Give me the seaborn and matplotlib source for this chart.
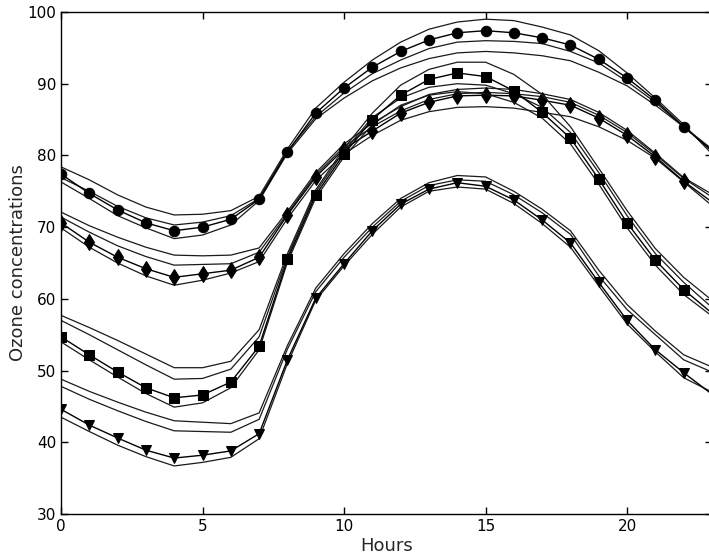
import matplotlib
matplotlib.use("Agg")
import matplotlib.pyplot as plt
import seaborn as sns
import pandas as pd

hours = list(range(24))

# circle group
circle_obs = [77.4, 74.7, 72.4, 70.6, 69.5, 70.0, 71.1, 73.9, 80.5, 85.9, 89.4, 92.3,
              94.5, 96.1, 97.1, 97.4, 97.1, 96.4, 95.4, 93.4, 90.8, 87.7, 84.0, 80.6]
circle_a = [78.4, 76.6, 74.5, 72.8, 71.7, 71.8, 72.3, 74.3, 80.9, 86.6, 90.2, 93.3,
            95.8, 97.6, 98.6, 99.0, 98.8, 97.9, 96.8, 94.6, 91.5, 88.0, 84.3, 80.2]
circle_b = [76.9, 75.0, 72.9, 71.3, 70.3, 70.7, 71.6, 74.0, 80.6, 85.4, 88.7, 91.4,
            93.3, 94.9, 95.8, 96.0, 95.9, 95.6, 94.5, 92.9, 90.3, 87.4, 84.0, 80.7]
circle_c = [76.3, 74.0, 71.6, 69.9, 68.4, 68.9, 70.3, 73.7, 80.3, 85.1, 88.0, 90.4,
            92.2, 93.5, 94.3, 94.5, 94.3, 93.9, 93.2, 91.6, 89.7, 87.0, 84.0, 80.9]

# diamond group
diamond_obs = [70.6, 67.9, 65.8, 64.2, 63.0, 63.5, 64.0, 65.8, 71.7, 77.0, 80.9, 83.4,
               85.9, 87.4, 88.3, 88.4, 88.3, 87.7, 87.0, 85.2, 82.8, 79.8, 76.4, 73.5]
diamond_a = [72.1, 70.2, 68.6, 67.2, 66.1, 66.0, 66.1, 67.1, 72.2, 77.6, 81.6, 84.5,
             86.8, 88.5, 89.2, 89.4, 89.2, 88.6, 87.8, 86.0, 83.5, 80.3, 76.9, 74.6]
diamond_b = [71.4, 69.3, 67.4, 65.9, 64.7, 64.8, 64.9, 66.5, 71.9, 77.3, 81.2, 84.0,
             86.2, 87.8, 88.6, 88.8, 88.6, 88.2, 87.4, 85.6, 83.2, 80.1, 76.8, 74.2]
diamond_c = [69.9, 67.2, 65.0, 63.2, 61.9, 62.6, 63.6, 65.2, 71.2, 76.5, 80.2, 82.8,
             84.9, 86.1, 86.7, 86.8, 86.6, 86.0, 85.4, 84.0, 82.1, 79.6, 76.3, 73.0]

# square group
square_obs = [54.7, 52.2, 49.8, 47.6, 46.2, 46.6, 48.4, 53.4, 65.5, 74.5, 80.2, 85.0,
              88.4, 90.6, 91.5, 91.0, 89.0, 86.0, 82.4, 76.7, 70.6, 65.4, 61.3, 58.0]
square_a = [57.7, 56.0, 54.2, 52.3, 50.4, 50.4, 51.3, 55.7, 66.3, 75.2, 81.0, 85.9,
            89.8, 92.0, 93.0, 93.0, 91.3, 88.5, 84.0, 78.2, 72.3, 67.0, 63.0, 59.8]
square_b = [57.0, 55.0, 52.9, 50.8, 48.8, 48.9, 50.2, 54.7, 65.9, 74.9, 80.6, 85.3,
            88.0, 89.5, 90.0, 89.8, 88.6, 86.7, 83.2, 77.6, 71.6, 66.3, 62.3, 58.8]
square_c = [54.0, 51.5, 49.1, 46.8, 44.9, 45.5, 47.6, 52.9, 65.1, 74.1, 79.8, 84.3,
            87.0, 88.4, 88.9, 88.6, 87.4, 85.2, 81.6, 76.0, 69.9, 64.7, 60.6, 57.6]

# triangle group
triangle_obs = [44.6, 42.4, 40.6, 38.9, 37.8, 38.2, 38.8, 41.2, 51.5, 60.1, 64.9, 69.5,
                73.2, 75.3, 76.2, 75.7, 73.8, 71.0, 67.8, 62.3, 57.0, 52.9, 49.7, 46.7]
triangle_a = [48.8, 47.1, 45.6, 44.2, 43.0, 42.8, 42.6, 44.1, 53.5, 61.5, 66.3, 70.5,
              74.0, 76.2, 77.2, 77.0, 75.0, 72.5, 69.5, 64.0, 59.2, 55.5, 52.2, 50.5]
triangle_b = [47.8, 46.0, 44.4, 42.9, 41.6, 41.5, 41.4, 43.2, 53.0, 61.0, 65.8, 70.0,
              73.6, 75.8, 76.6, 76.4, 74.5, 72.0, 69.0, 63.2, 58.5, 55.0, 51.5, 49.8]
triangle_c = [43.5, 41.5, 39.6, 38.0, 36.7, 37.2, 37.9, 40.5, 51.0, 59.8, 64.6, 69.0,
              72.8, 75.0, 75.6, 75.3, 73.3, 70.5, 67.2, 61.8, 56.5, 52.6, 49.0, 47.0]

groups = [
    ("o", 7.5, circle_obs, [circle_a, circle_b, circle_c]),
    ("d", 8.5, diamond_obs, [diamond_a, diamond_b, diamond_c]),
    ("s", 7, square_obs, [square_a, square_b, square_c]),
    ("v", 7.5, triangle_obs, [triangle_a, triangle_b, triangle_c]),
]

sns.set_style("ticks", {"xtick.direction": "in", "ytick.direction": "in"})
plt.rcParams["font.family"] = ["DejaVu Sans"]

fig = plt.figure(figsize=(7.09, 5.58), dpi=100)
ax = fig.add_axes([61 / 709, 44 / 558, 651 / 709, 502 / 558])

for marker, ms, obs, bands in groups:
    for band in bands:
        sns.lineplot(x=hours, y=band, ax=ax, color="#1a1a1a", lw=0.9)
    sns.lineplot(x=hours, y=obs, ax=ax, color="black", lw=1.0,
                 marker=marker, markersize=ms, markeredgecolor="black",
                 markevery=list(range(23)))

ax.set_xlim(0, 23)
ax.set_ylim(30, 100)
ax.set_xticks([0, 5, 10, 15, 20])
ax.set_yticks(range(30, 101, 10))
ax.tick_params(top=True, right=True, length=5, width=1, labelsize=11, colors="black")
for s in ax.spines.values():
    s.set_linewidth(1)
    s.set_color("black")
ax.set_xlabel("Hours", fontsize=13, labelpad=2)
ax.set_ylabel("Ozone concentrations", fontsize=13, labelpad=0)

fig.savefig("out.png", dpi=100)
